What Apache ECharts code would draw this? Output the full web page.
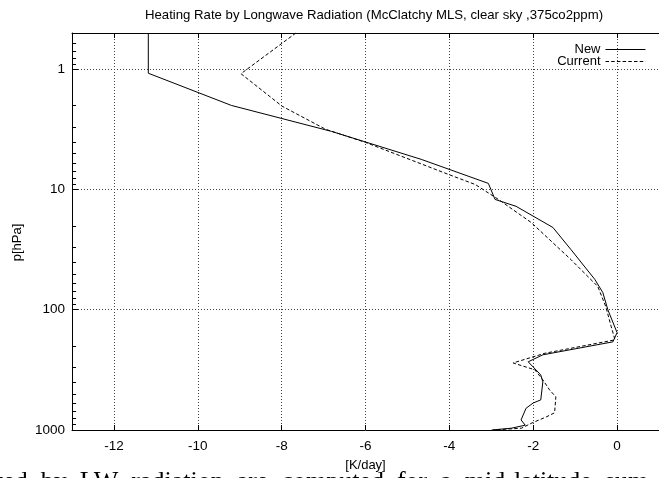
<!DOCTYPE html>
<html>
<head>
<meta charset="utf-8">
<script src="https://cdn.jsdelivr.net/npm/echarts@6/dist/echarts.min.js"></script>
<style>
  html, body { margin: 0; padding: 0; background: #fff; }
  #chart { width: 659px; height: 478px; }
</style>
</head>
<body>
<div id="chart"></div>
<script>
// heating rate [K/day] vs pressure [hPa]
const newRate = [-11.18, -11.18, -9.2, -6.81, -4.67, -3.07, -2.91, -2.41, -1.53, -1.1, -0.53, -0.34, -0.22, 0.0, -0.1, -1.77, -2.12, -1.82, -1.77, -1.82, -2.0, -2.17, -2.29, -2.19, -2.52, -2.99]
const newPres = [0.5, 1.08, 2.0, 3.29, 5.62, 8.9, 12.1, 13.8, 20.7, 31.6, 56, 72, 100, 155, 185, 237, 271, 348, 398, 562, 596, 659, 825, 912, 966, 1000]

const curRate = [-7.66, -8.97, -7.99, -6.95, -6.0, -4.02, -3.38, -2.83, -2.05, -1.1, -0.46, -0.27, -0.14, -0.05, -1.72, -2.48, -1.96, -1.77, -1.61, -1.46, -1.49, -1.69, -2.03, -2.28, -2.95]
const curPres = [0.5, 1.09, 2.03, 3.16, 4.06, 7.5, 9.1, 12.1, 18.8, 38.3, 64, 94, 138, 178, 230, 277, 316, 383, 464, 530, 719, 779, 874, 966, 1000]

const minorTicks = [0.6, 0.7, 0.8, 0.9, 2, 3, 4, 5, 6, 7, 8, 9, 20, 30, 40, 50, 60, 70, 80, 90, 200, 300, 400, 500, 600, 700, 800, 900]

const font = 'Liberation Sans, Arial, Helvetica, sans-serif'
const chart = echarts.init(document.getElementById('chart'), null, { renderer: 'canvas' })

const pair = (xs, ys) => xs.map((x, i) => [x, ys[i]])

const legendBase = {
  right: 8,
  align: 'right',
  itemWidth: 40,
  itemHeight: 12,
  itemGap: 8,
  itemStyle: { opacity: 0 },
  lineStyle: { width: 1 },
  textStyle: { fontFamily: font, fontSize: 13, color: '#000' },
}

const options = {
  backgroundColor: '#fff',
  animation: false,
  title: {
    text: 'Heating Rate by Longwave Radiation (McClatchy MLS, clear sky ,375co2ppm)',
    left: 369,
    textAlign: 'center',
    top: 4,
    textStyle: { fontFamily: font, fontSize: 13.2, fontWeight: 'normal', color: '#000' },
  },
  grid: { left: 72, top: 33, width: 589, height: 397 },
  legend: [
    Object.assign({ data: ['New'], top: 38 }, legendBase),
    Object.assign({ data: ['Current'], top: 50 }, legendBase),
  ],
  xAxis: [
    {
      type: 'value',
      min: -13,
      max: 1,
      splitNumber: 7,
      name: '[K/day]',
      nameLocation: 'middle',
      nameGap: 29,
      nameTextStyle: { fontFamily: font, fontSize: 13, color: '#000' },
      axisLine: { show: true, onZero: false, lineStyle: { color: '#000', width: 1 } },
      axisTick: { show: true, inside: true, length: 5, lineStyle: { color: '#000' } },
      axisLabel: { showMinLabel: false, showMaxLabel: false, margin: 9, fontFamily: font, fontSize: 13.5, color: '#000' },
      splitLine: { show: true, lineStyle: { color: '#444', width: 1, type: [1, 2] } },
    },
    {
      type: 'value',
      position: 'top',
      min: -13,
      max: 1,
      splitNumber: 7,
      axisLine: { show: true, onZero: false, lineStyle: { color: '#000', width: 1 } },
      axisTick: { show: true, inside: true, length: 5, lineStyle: { color: '#000' } },
      axisLabel: { show: false },
      splitLine: { show: false },
    },
  ],
  yAxis: {
    type: 'log',
    logBase: 10,
    min: 0.5,
    max: 1000,
    inverse: true,
    name: 'p[hPa]',
    nameLocation: 'middle',
    nameGap: 44,
    nameTextStyle: { fontFamily: font, fontSize: 13, color: '#000', padding: [0, 22, 0, 0] },
    axisLine: { show: true, onZero: false, lineStyle: { color: '#000', width: 1 } },
    axisTick: { show: true, inside: true, length: 6, lineStyle: { color: '#000' } },
    axisLabel: {
      margin: 7,
      fontFamily: font,
      fontSize: 13.5,
      color: '#000',
      formatter: (v) => (v >= 1 ? String(Math.round(v)) : ''),
    },
    splitLine: { show: true, lineStyle: { color: '#444', width: 1, type: [1, 2] } },
  },
  series: [
    {
      name: 'New',
      type: 'line',
      data: pair(newRate, newPres),
      symbol: 'none',
      lineStyle: { color: '#000', width: 1 },
      itemStyle: { color: '#000' },
    },
    {
      name: 'Current',
      type: 'line',
      data: pair(curRate, curPres),
      symbol: 'none',
      lineStyle: { color: '#000', width: 1, type: [3.5, 2.2] },
      itemStyle: { color: '#000' },
    },
    {
      // minor log ticks on the left axis
      name: 'minor',
      type: 'custom',
      silent: true,
      data: minorTicks.map((v) => [-13, v]),
      renderItem: (params, api) => {
        const pt = api.coord([api.value(0), api.value(1)])
        const y = Math.round(pt[1]) + 0.5
        return {
          type: 'line',
          shape: { x1: pt[0], y1: y, x2: pt[0] + 4, y2: y },
          style: { stroke: '#000', lineWidth: 1 },
        }
      },
    },
  ],
  graphic: [
    {
      type: 'text',
      left: -4,
      top: 469,
      style: {
        text: 'ted  by  LW  radiation  are  computed  for  a  mid-latitude  sum',
        font: '26px "Liberation Serif", "DejaVu Serif", serif',
        fill: '#000',
      },
    },
  ],
}

chart.setOption(options)
</script>
</body>
</html>
